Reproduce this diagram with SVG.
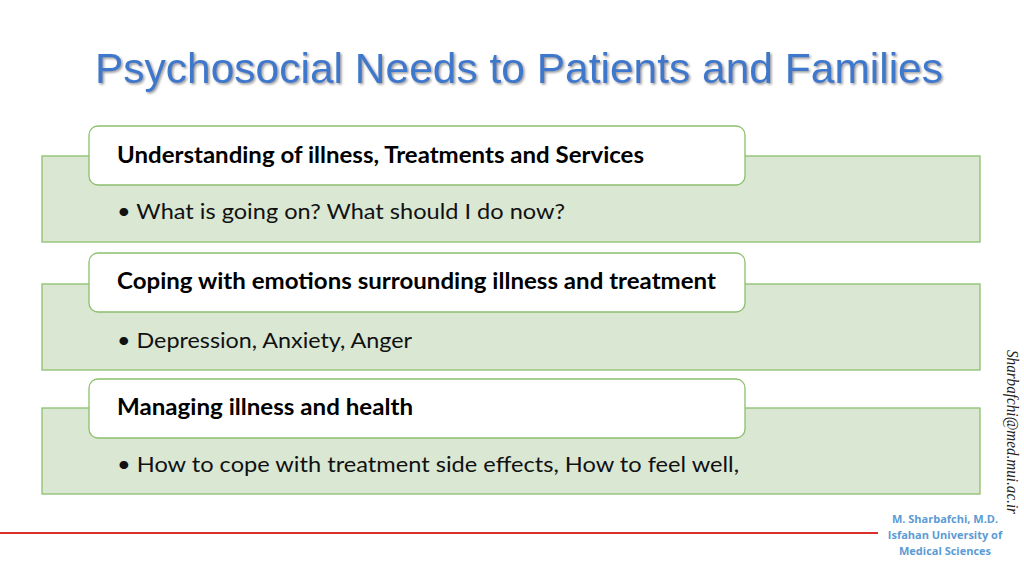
<svg xmlns="http://www.w3.org/2000/svg" width="1024" height="576" viewBox="0 0 1024 576">
<defs><style>
.bg{fill:#d9e7d3;stroke:#8cbf6e;stroke-width:1.3}
.hd{fill:#fff;stroke:#8cbf6e;stroke-width:1.3}
.h{font-family:Lato,"Open Sans",sans-serif;font-weight:bold;font-size:22px;fill:#000}
.b{font-family:Lato,"Open Sans",sans-serif;font-size:22px;fill:#111}
.f{font-family:"Open Sans",sans-serif;font-weight:bold;font-size:11px;fill:#5b9bd5}
</style>
<filter id="sh"><feDropShadow dx="1.5" dy="1.5" stdDeviation="0.8" flood-color="#999"/></filter></defs>
<rect width="1024" height="576" fill="#fff"/>
<text x="95" y="83" font-family="'Liberation Sans',Arial,sans-serif" font-size="42" fill="#3e78cc" filter="url(#sh)" textLength="848" lengthAdjust="spacingAndGlyphs">Psychosocial Needs to Patients and Families</text>
<g id="n1"><rect class="bg" x="42" y="156" width="938" height="86"/><rect class="hd" x="89" y="126" width="656" height="59" rx="9"/>
<text class="h" x="117" y="163" textLength="527" lengthAdjust="spacingAndGlyphs">Understanding of illness, Treatments and Services</text>
<text class="b" x="117" y="219" textLength="448" lengthAdjust="spacingAndGlyphs">• What is going on? What should I do now?</text></g>
<g id="n2"><rect class="bg" x="42" y="284" width="938" height="86"/><rect class="hd" x="89" y="253" width="656" height="59" rx="9"/>
<text class="h" x="117" y="289" textLength="599" lengthAdjust="spacingAndGlyphs">Coping with emotions surrounding illness and treatment</text>
<text class="b" x="117" y="348" textLength="295" lengthAdjust="spacingAndGlyphs">• Depression, Anxiety, Anger</text></g>
<g id="n3"><rect class="bg" x="42" y="408" width="938" height="86"/><rect class="hd" x="89" y="379" width="656" height="59" rx="9"/>
<text class="h" x="117" y="415" textLength="296" lengthAdjust="spacingAndGlyphs">Managing illness and health</text>
<text class="b" x="117" y="472" textLength="622" lengthAdjust="spacingAndGlyphs">• How to cope with treatment side effects, How to feel well,</text></g>
<g id="connectors"/>
<line x1="0" y1="533" x2="878" y2="533" stroke="#d9302c" stroke-width="2"/>
<text transform="translate(1007,350) rotate(90)" font-family="'Liberation Serif',serif" font-style="italic" font-size="16" fill="#222" textLength="164" lengthAdjust="spacingAndGlyphs">Sharbafchi@med.mui.ac.ir</text>
<text class="f" x="945" y="523" text-anchor="middle">M. Sharbafchi, M.D.</text>
<text class="f" x="945" y="539" text-anchor="middle">Isfahan University of</text>
<text class="f" x="945" y="555" text-anchor="middle">Medical Sciences</text>
</svg>
